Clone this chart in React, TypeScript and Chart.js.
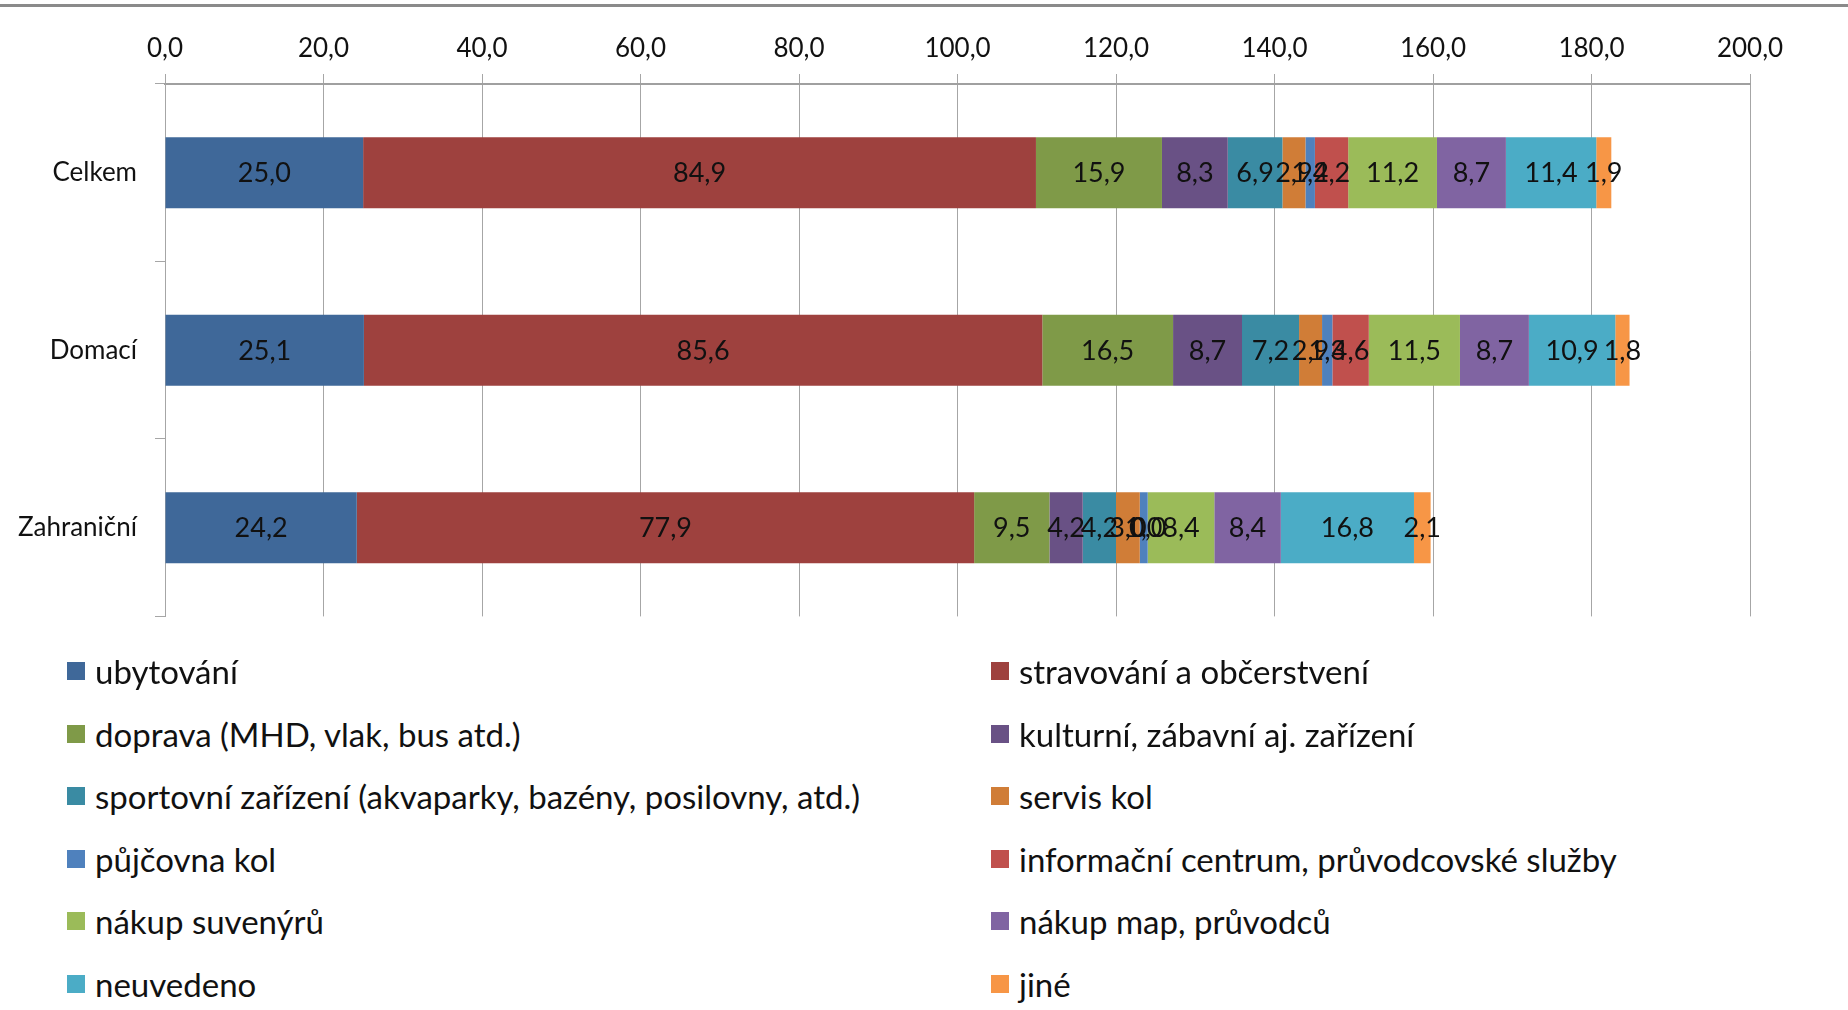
import React, { useEffect, useRef } from "react";
import { Chart, registerables } from "chart.js";

Chart.register(...registerables);

const categories = ["Celkem", "Domací", "Zahraniční"];

const seriesNames = [
  "ubytování",
  "stravování a občerstvení",
  "doprava (MHD, vlak, bus atd.)",
  "kulturní, zábavní aj. zařízení",
  "sportovní zařízení (akvaparky, bazény, posilovny, atd.)",
  "servis kol",
  "půjčovna kol",
  "informační centrum, průvodcovské služby",
  "nákup suvenýrů",
  "nákup map, průvodců",
  "neuvedeno",
  "jiné",
];

const ubytovani = [25.0, 25.1, 24.2];
const stravovani = [84.9, 85.6, 77.9];
const doprava = [15.9, 16.5, 9.5];
const kulturni = [8.3, 8.7, 4.2];
const sportovni = [6.9, 7.2, 4.2];
const servisKol = [2.9, 2.9, 3.0];
const pujcovnaKol = [1.2, 1.3, 1.0];
const informacni = [4.2, 4.6, 0.0];
const suvenyry = [11.2, 11.5, 8.4];
const mapy = [8.7, 8.7, 8.4];
const neuvedeno = [11.4, 10.9, 16.8];
const jine = [1.9, 1.8, 2.1];

const seriesValues = [
  ubytovani, stravovani, doprava, kulturni, sportovni, servisKol,
  pujcovnaKol, informacni, suvenyry, mapy, neuvedeno, jine,
];

const seriesColors = [
  "#3F6899", "#9E413E", "#7F9A48", "#695185", "#3A8BA3", "#D07D37",
  "#4F81BD", "#C0504D", "#9BBB59", "#8064A2", "#4BACC6", "#F79646",
];

const xTickMin = 0;
const xTickMax = 200;
const xTickStep = 20;

const FONT = "Lato, 'Open Sans', sans-serif";
const fmt = (v: number) => v.toFixed(1).replace(".", ",");

const labelPlugin = {
  id: "barLabels",
  afterDatasetsDraw(chart: any) {
    const ctx = chart.ctx;
    ctx.save();
    ctx.font = `27px ${FONT}`;
    ctx.fillStyle = "#111";
    ctx.textAlign = "center";
    ctx.textBaseline = "middle";
    chart.data.datasets.forEach((ds: any, i: number) => {
      const meta = chart.getDatasetMeta(i);
      meta.data.forEach((el: any, j: number) => {
        const p = el.getProps(["x", "y", "base"], true);
        ctx.fillText(fmt(ds.data[j]), (p.x + p.base) / 2, p.y + 1);
      });
    });
    ctx.restore();
  },
};

export default function App() {
  const ref = useRef<HTMLCanvasElement | null>(null);

  useEffect(() => {
    if (!ref.current) return;
    const chart = new Chart(ref.current, {
      type: "bar",
      data: {
        labels: categories,
        datasets: seriesNames.map((name, i) => ({
          label: name,
          data: seriesValues[i],
          backgroundColor: seriesColors[i],
          borderWidth: 0,
          categoryPercentage: 0.4,
          barPercentage: 1,
        })),
      },
      options: {
        indexAxis: "y",
        responsive: false,
        animation: false,
        layout: { padding: { left: 0, right: 98, top: 0, bottom: 0 } },
        plugins: {
          legend: { display: false },
          tooltip: { enabled: false },
        },
        scales: {
          x: {
            position: "top",
            stacked: true,
            min: xTickMin,
            max: xTickMax,
            ticks: {
              stepSize: xTickStep,
              callback: (v: any) => fmt(Number(v)),
              font: { family: FONT, size: 26 },
              color: "#111",
              padding: 10,
            },
            grid: { color: "#A6A6A6", lineWidth: 1, tickLength: 10 },
            border: { color: "#A0A0A0", width: 2 },
            afterFit: (s: any) => { s.height = 84; },
          },
          y: {
            stacked: true,
            ticks: {
              font: { family: FONT, size: 26 },
              color: "#111",
              padding: 18,
            },
            grid: {
              drawOnChartArea: false,
              offset: true,
              tickLength: 10,
              color: "#A6A6A6",
            },
            border: { color: "#A6A6A6", width: 1 },
            afterFit: (s: any) => { s.width = 165; },
          },
        },
      },
      plugins: [labelPlugin],
    });
    return () => chart.destroy();
  }, []);

  const rowH = 62.5;
  return (
    <div style={{ position: "fixed", left: 0, top: 0, width: 1848, height: 1010, background: "#fff", overflow: "hidden" }}>
      <div style={{ position: "absolute", left: 0, top: 4, width: 1848, height: 3, background: "#8a8a8a" }} />
      <canvas ref={ref} width={1848} height={650} style={{ position: "absolute", left: 0, top: 0 }} />
      {seriesNames.map((name, i) => {
        const col = i % 2;
        const row = Math.floor(i / 2);
        return (
          <div
            key={name}
            style={{
              position: "absolute",
              left: col === 0 ? 67 : 991,
              top: 640 + row * rowH,
              height: rowH,
              display: "flex",
              alignItems: "center",
              fontFamily: FONT,
              fontSize: 33,
              color: "#111",
              whiteSpace: "nowrap",
            }}
          >
            <span style={{ display: "inline-block", width: 18, height: 18, background: seriesColors[i], marginRight: 10 }} />
            <span>{name}</span>
          </div>
        );
      })}
    </div>
  );
}
